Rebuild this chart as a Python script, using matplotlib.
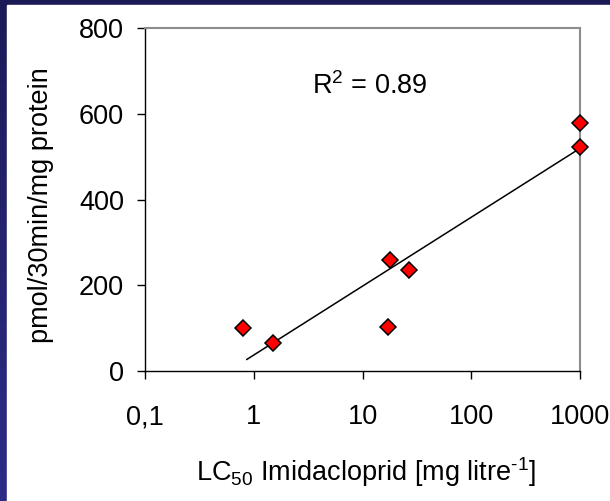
import numpy as np
import matplotlib.pyplot as plt
from matplotlib.patches import Rectangle

plt.rcParams['font.family'] = ['Liberation Sans', 'DejaVu Sans']
plt.rcParams['mathtext.fontset'] = 'custom'
plt.rcParams['mathtext.rm'] = 'Liberation Sans'
plt.rcParams['mathtext.it'] = 'Liberation Sans'

# LC50 imidacloprid (mg/l) vs enzyme activity (pmol/30min/mg protein)
lc50 = np.array([0.8, 1.5, 17.8, 27.0, 17.0, 1000.0, 1000.0])
activity = np.array([100, 66, 260, 236, 103, 579, 522])

xticks = [0.1, 1, 10, 100, 1000]
xticklabels = ['0,1', '1', '10', '100', '1000']
yticks = [0, 200, 400, 600, 800]

# logarithmic trend line, like the spreadsheet one
lx = np.log10(lc50)
slope, icpt = np.polyfit(lx, activity, 1)
pred = slope * lx + icpt
r2 = 1 - np.sum((activity - pred) ** 2) / np.sum((activity - activity.mean()) ** 2)

fig = plt.figure(figsize=(6.1, 5.01), dpi=100)

# slide background: navy with white panel
bg = fig.add_axes([0, 0, 1, 1], zorder=-10)
grad = np.linspace(0, 1, 256).reshape(-1, 1)
bg.imshow(grad, aspect='auto', extent=[0, 1, 0, 1], origin='upper',
          cmap=plt.matplotlib.colors.LinearSegmentedColormap.from_list(
              'slide', ['#1b1a57', '#2c2c88']))
bg.add_patch(Rectangle((7 / 610, 0), 1, 1 - 5 / 501, color='white'))
bg.set_xlim(0, 1)
bg.set_ylim(0, 1)
bg.axis('off')

ax = fig.add_axes([145 / 610, 130 / 501, 435 / 610, 343 / 501])
ax.set_facecolor('white')
ax.set_xscale('log')
ax.set_xlim(0.1, 1000)
ax.set_ylim(0, 800)

xs = np.array([lc50.min() * 1.08, lc50.max()])
ax.plot(xs, slope * np.log10(xs) + icpt, color='black', lw=1.1, zorder=2)
ax.plot(lc50, activity, linestyle='none', marker='D', markersize=8,
        markerfacecolor='#ff0000', markeredgecolor='black', markeredgewidth=1.1,
        clip_on=False, zorder=3)

ax.set_xticks(xticks)
ax.set_xticklabels(xticklabels)
ax.xaxis.set_minor_locator(plt.NullLocator())
ax.set_yticks(yticks)
ax.tick_params(axis='x', direction='out', length=6, width=1, pad=18, labelsize=19.5)
ax.tick_params(axis='y', direction='out', length=6, width=1, pad=9, labelsize=19.5)

for s in ['left', 'bottom']:
    ax.spines[s].set_color('black')
    ax.spines[s].set_linewidth(1)
for s in ['top', 'right']:
    ax.spines[s].set_color('#8c8c8c')
    ax.spines[s].set_linewidth(1.5)

ax.set_ylabel('pmol/30min/mg protein', fontsize=19.5, va='center')
ax.yaxis.set_label_coords(-0.239, 0.484)
ax.set_xlabel(r'LC$_{50}$ Imidacloprid [mg litre$^{\text{-1}}$]', fontsize=19.5, va='center')
ax.xaxis.set_label_coords(0.508, -0.294)

ax.text(0.517, 0.808, 'R$^2$ = %.2f' % r2, transform=ax.transAxes,
        ha='center', va='baseline', fontsize=19.5)

fig.savefig('out.png', dpi=100)
